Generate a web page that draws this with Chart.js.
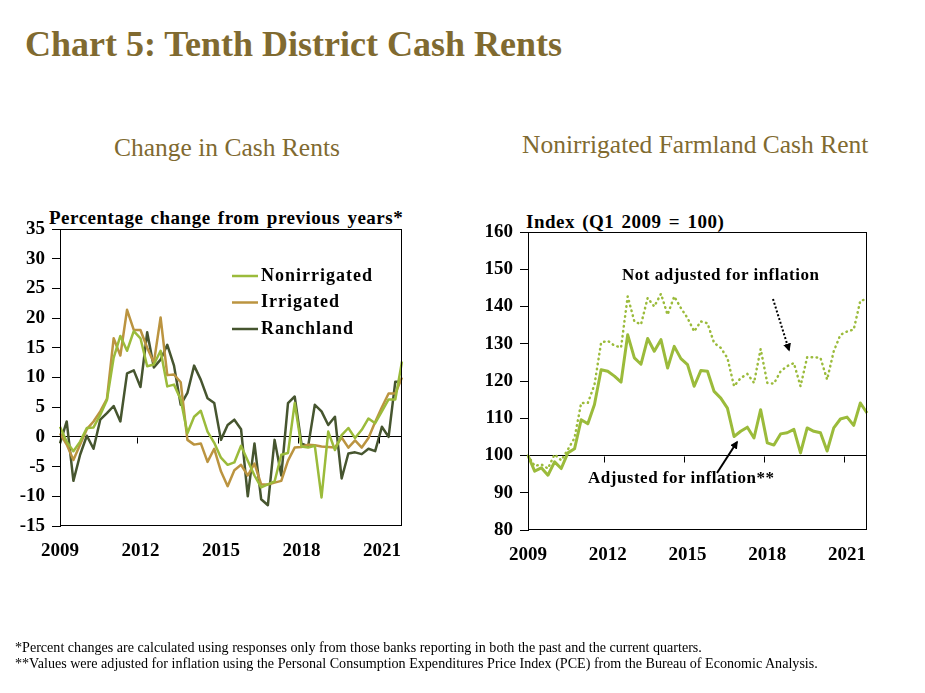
<!DOCTYPE html>
<html>
<head>
<meta charset="utf-8">
<script src="https://cdn.jsdelivr.net/npm/chart.js@4"></script>
<style>
body { margin:0; width:925px; height:693px; background:#fff; position:relative; overflow:hidden; font-family:"Liberation Serif","Times New Roman",serif; }
.abs { position:absolute; white-space:nowrap; line-height:1; }
#title { left:25px; top:26px; font-size:36px; font-weight:bold; color:#806a30; }
.sub { font-size:25.5px; color:#806a30; }
.axt { font-size:19px; font-weight:bold; color:#000; letter-spacing:0.5px; word-spacing:2px; }
.note { font-size:17px; font-weight:bold; color:#000; letter-spacing:0.5px; }
.foot { font-size:14.1px; color:#000; left:15px; }
.box { position:absolute; top:205px; width:420px; height:370px; }
svg { position:absolute; left:0; top:0; }
</style>
</head>
<body>
<div class="abs" id="title">Chart 5: Tenth District Cash Rents</div>
<div class="abs sub" style="left:114px; top:135px;">Change in Cash Rents</div>
<div class="abs sub" style="left:522px; top:132px;">Nonirrigated Farmland Cash Rent</div>
<div class="abs axt" style="left:49px; top:208px;">Percentage change from previous years*</div>
<div class="abs axt" style="left:526px; top:212px;">Index (Q1 2009 = 100)</div>

<div class="box" style="left:0;"><canvas id="left" width="420" height="370"></canvas></div>
<div class="box" style="left:470px;"><canvas id="right" width="420" height="370"></canvas></div>

<div class="abs note" style="left:622px; top:266px;">Not adjusted for inflation</div>
<div class="abs note" style="left:588px; top:469px;">Adjusted for inflation**</div>
<svg width="925" height="693">
  <defs>
    <marker id="head" viewBox="0 0 10 10" refX="8" refY="5" markerWidth="4" markerHeight="4" orient="auto">
      <path d="M0,0 L10,5 L0,10 z" fill="#000"/>
    </marker>
  </defs>
  <line x1="773" y1="299" x2="789" y2="350" stroke="#000" stroke-width="2" stroke-dasharray="2 2" marker-end="url(#head)"/>
  <line x1="717" y1="473" x2="737" y2="442" stroke="#000" stroke-width="2" marker-end="url(#head)"/>
</svg>

<div class="abs foot" style="top:640px;">*Percent changes are calculated using responses only from those banks reporting in both the past and the current quarters.</div>
<div class="abs foot" style="top:656px;">**Values were adjusted for inflation using the Personal Consumption Expenditures Price Index (PCE) from the Bureau of Economic Analysis.</div>

<script>
// quarterly, Q1 2009 - Q4 2021
const quarters = [];
for (let yr = 2009; yr <= 2021; yr++)
	for (let q = 1; q <= 4; q++)
		quarters.push('Q' + q + ' ' + yr);
const tickYears = ['2009', '2012', '2015', '2018', '2021'];

// percent change from previous year
const nonirrigated = [1.7, -0.8, -2.4, -0.8, 1.5, 1.6, 3.7, 6.2, 13.3, 17, 14.5, 17.8, 16.6, 11.9, 12.2, 14.5,
	8.5, 8.8, 6.3, 0.6, 3.4, 4.4, 0.9, -1, -3.5, -4.7, -4.3, -1.5, -4, -6.5, -8.5, -8, -7.5, -3, -2.7, 5.7,
	-1.6, -1.8, -1.5, -10.2, 0.9, -2.2, 0.3, 1.5, -0.2, 1.2, 3.1, 2.3, 4.3, 6.3, 6.3, 12.7];
const irrigated = [0.6, -1.3, -3.9, -1.3, 1.3, 2.6, 4.3, 6.4, 16.6, 13.7, 21.4, 18, 18, 15, 12.5, 20.1,
	10.4, 10.5, 9.2, -0.5, -1.3, -1.1, -4.2, -2, -5.8, -8.3, -5.6, -4.7, -6.5, -4.5, -8, -8, -7.7, -7.4, -4, -1.8,
	-1.7, -1.3, -1.4, -1.6, -1.7, -1.8, -0.1, -1.8, -0.6, -1.8, -0.2, 2.5, 5, 7.3, 7.3, 10];
const ranchland = [-1.1, 2.6, -7.4, -3, 0.2, -2, 2.9, 4, 5.2, 2.6, 10.7, 11.2, 8.4, 17.6, 11.7, 13,
	15.5, 12, 5.4, 7.4, 12, 9.6, 6.5, 5.7, -0.5, 2, 2.9, 1.3, -10, -1.1, -10.5, -11.5, -0.5, -6.5, 5.7, 6.8,
	-1.1, -1.6, 5.4, 4.3, 2, 3.4, -7, -2.8, -2.6, -2.9, -2, -2.4, 1.7, 0, 9.3, 9.3];

// nonirrigated cash rent index, Q1 2009 = 100
const adjusted = [100, 95.8, 96.7, 94.7, 98.3, 96.5, 100.7, 101.8, 109.6, 108.5, 113.7, 123, 122.6, 121.3, 119.7,
	132.4, 126.2, 124.5, 131.4, 128, 131.1, 123.5, 129.3, 126, 124.4, 118.6, 122.8, 122.6, 117.2, 115.4, 112.7,
	105.1, 106.5, 107.6, 104.7, 112.3, 103.4, 102.8, 105.8, 106.1, 107, 100.7, 107.4, 106.5, 106.1, 101.2, 107.4,
	109.8, 110.3, 108.1, 114.1, 111.4];
const notAdjusted = [100, 97.2, 97.6, 96.5, 100.3, 98.7, 101.6, 104.7, 114.1, 114.1, 119, 130.3, 130.8, 129.5, 129,
	142.7, 136, 135.2, 142.3, 140, 143.4, 137.8, 142.7, 139.6, 136.9, 133.3, 136, 135.5, 130.2, 128.9, 126.2,
	118.6, 120.8, 121.9, 119.5, 128.6, 119.5, 119.3, 122.6, 124, 124.8, 118.6, 126.4, 126.4, 126.2, 120.4, 128,
	132.4, 133.3, 133.8, 141.6, 141.9];

const GREEN = '#9bbb3b', GOLD = '#bb9440', DARK = '#46552f';
const tickFont = { family: 'Liberation Serif', size: 19, weight: 'bold' };

// box round the plot and small year ticks on the base line
const frame = {
	id: 'frame',
	afterDatasetsDraw(chart, args, opts) {
		const { ctx, chartArea: a, scales: { x, y } } = chart;
		ctx.save();
		ctx.strokeStyle = '#000';
		ctx.lineWidth = 1;
		ctx.strokeRect(a.left + 0.5, a.top + 0.5, a.width - 1, a.height - 1);
		const by = Math.round(y.getPixelForValue(opts.base)) + 0.5;
		ctx.beginPath();
		chart.data.labels.forEach((l, i) => {
			if (i > 0 && l.startsWith('Q1') && tickYears.includes(l.slice(3))) {
				const px = Math.round(x.getPixelForValue(i - 0.5)) + 0.5;
				ctx.moveTo(px, by);
				ctx.lineTo(px, by + 6);
			}
		});
		ctx.stroke();
		ctx.restore();
	}
};

// legend drawn inside the plot
const keyBox = {
	id: 'keyBox',
	afterDraw(chart, args, o) {
		if (!o.show)
			return;
		const { ctx, chartArea: a } = chart;
		ctx.save();
		ctx.font = 'bold 18px "Liberation Serif"';
		ctx.letterSpacing = '1px';
		ctx.textBaseline = 'middle';
		chart.data.datasets.forEach((ds, i) => {
			const y = a.top + o.top + i * o.gap;
			ctx.strokeStyle = ds.borderColor;
			ctx.lineWidth = ds.borderWidth;
			ctx.beginPath();
			ctx.moveTo(a.left + o.left, y);
			ctx.lineTo(a.left + o.left + 26, y);
			ctx.stroke();
			ctx.fillStyle = '#000';
			ctx.fillText(ds.label, a.left + o.left + 29, y);
		});
		ctx.restore();
	}
};

function makeChart(id, datasets, yMin, yMax, step, base, pad, yWidth, xHeight, legend) {
	const ctx = document.getElementById(id).getContext('2d');
	return new Chart(ctx, {
		type: 'line',
		data: { labels: quarters, datasets: datasets },
		options: {
			responsive: false,
			animation: false,
			layout: { padding: pad },
			elements: { point: { radius: 0 }, line: { tension: 0, borderJoinStyle: 'round' } },
			plugins: {
				legend: { display: false },
				tooltip: { enabled: false },
				frame: { base: base },
				keyBox: legend
			},
			scales: {
				x: {
					type: 'category',
					offset: false,
					grid: { display: false, drawTicks: false },
					border: { display: false },
					afterFit(s) { s.height = xHeight; },
					ticks: {
						autoSkip: false,
						maxRotation: 0,
						padding: 14,
						color: '#000',
						font: tickFont,
						callback(v) {
							const l = this.getLabelForValue(v);
							return l.startsWith('Q1') && tickYears.includes(l.slice(3)) ? l.slice(3) : '';
						}
					}
				},
				y: {
					min: yMin,
					max: yMax,
					afterFit(s) { s.width = yWidth; },
					grid: {
						color: c => c.tick && c.tick.value === base ? '#000' : 'rgba(0,0,0,0)',
						tickColor: '#000',
						tickLength: 8,
						lineWidth: 1
					},
					border: { display: true, color: '#000' },
					ticks: { stepSize: step, padding: 7, color: '#000', font: tickFont }
				}
			}
		},
		plugins: [frame, keyBox]
	});
}

makeChart('left', [
	{ label: 'Nonirrigated', data: nonirrigated, borderColor: GREEN, borderWidth: 2.5 },
	{ label: 'Irrigated', data: irrigated, borderColor: GOLD, borderWidth: 2.5 },
	{ label: 'Ranchland', data: ranchland, borderColor: DARK, borderWidth: 2.5 }
], -15, 35, 5, 0, { top: 24, right: 18, left: 0, bottom: 0 }, 60, 49,
	{ show: true, left: 172, top: 47, gap: 26.5 });

makeChart('right', [
	{ label: 'Not adjusted for inflation', data: notAdjusted, borderColor: GREEN, borderWidth: 2.5,
		borderDash: [0.5, 4.5], borderCapStyle: 'round' },
	{ label: 'Adjusted for inflation', data: adjusted, borderColor: GREEN, borderWidth: 3 }
], 80, 160, 10, 100, { top: 27, right: 23, left: 0, bottom: 0 }, 58, 45, { show: false });
</script>
</body>
</html>
